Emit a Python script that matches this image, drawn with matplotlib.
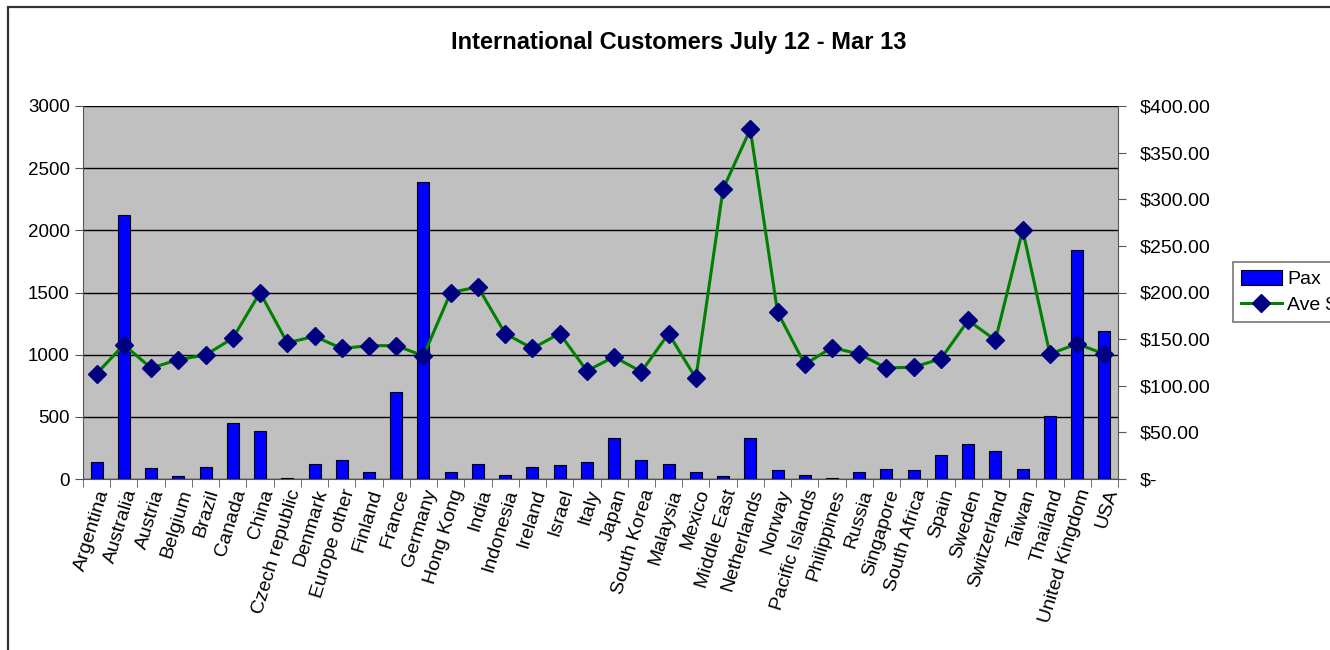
import matplotlib.pyplot as plt
import numpy as np
from matplotlib.patches import Rectangle
from matplotlib.ticker import FuncFormatter

plt.rcParams["font.family"] = ["Liberation Sans", "DejaVu Sans"]

countries = [
    "Argentina", "Australia", "Austria", "Belgium", "Brazil", "Canada", "China",
    "Czech republic", "Denmark", "Europe other", "Finland", "France", "Germany",
    "Hong Kong", "India", "Indonesia", "Ireland", "Israel", "Italy", "Japan",
    "South Korea", "Malaysia", "Mexico", "Middle East", "Netherlands", "Norway",
    "Pacific Islands", "Philippines", "Russia", "Singapore", "South Africa",
    "Spain", "Sweden", "Switzerland", "Taiwan", "Thailand", "United Kingdom", "USA",
]
pax = [
    140, 2120, 85, 25, 95, 450, 390, 10, 120, 155, 60, 700, 2390,
    60, 120, 35, 95, 110, 140, 330, 155, 120, 60, 25, 330, 70,
    35, 10, 60, 80, 70, 190, 285, 225, 80, 510, 1840, 1190,
]
ave_spend = [
    113, 144, 119, 128, 133, 151, 200, 146, 153, 140, 143, 143, 132,
    200, 206, 156, 140, 156, 116, 131, 115, 156, 108, 311, 375, 179,
    123, 141, 134, 119, 120, 129, 170, 149, 267, 134, 145, 134,
]

fig = plt.figure(figsize=(13.3, 6.5), dpi=100)
# chart border (cut off at right and bottom like the source)
fig.patches.append(Rectangle((8 / 1330, -0.1), 1.2, 1.1 - 6.5 / 650, transform=fig.transFigure,
                             fill=False, edgecolor="#333333", linewidth=1.6))

ax = fig.add_axes([83 / 1330, 171 / 650, 1035 / 1330, 373 / 650])
ax.set_facecolor("#c0c0c0")
x = np.arange(len(countries))
bars = ax.bar(x, pax, width=0.44, color="#0000ff", edgecolor="black", linewidth=0.8,
              zorder=3, label="Pax")
ax.set_xlim(-0.5, len(countries) - 0.5)
ax.set_ylim(0, 3000)
ax.set_yticks(range(0, 3001, 500))
ax.yaxis.grid(True, color="black", linewidth=1.0, zorder=1)
ax.set_axisbelow(True)
ax.set_xticks(x)
ax.set_xticklabels(countries, rotation=73, ha="right", rotation_mode="anchor", fontsize=14)
ax.set_xticks(np.arange(-0.5, len(countries), 1), minor=True)
ax.tick_params(axis="x", which="major", length=0, pad=6)
ax.tick_params(axis="x", which="minor", length=6, direction="out", color="#555555")
ax.tick_params(axis="y", labelsize=13.5, length=6, color="#555555")
for s in ["top", "right"]:
    ax.spines[s].set_visible(False)
ax.spines["left"].set_color("#555555")
ax.spines["bottom"].set_color("#555555")

ax2 = ax.twinx()
line, = ax2.plot(x, ave_spend, color="#008000", linewidth=2.2, marker="D", markersize=9,
                 markerfacecolor="#000080", markeredgecolor="#000080", zorder=4, label="Ave $")
ax2.set_ylim(0, 400)
ax2.set_yticks(range(0, 401, 50))
ax2.yaxis.set_major_formatter(FuncFormatter(lambda v, p: "$-" if v == 0 else f"${v:,.2f}"))
ax2.tick_params(axis="y", labelsize=14, length=6, pad=10, color="#555555")
for s in ["top", "left", "bottom"]:
    ax2.spines[s].set_visible(False)
ax2.spines["right"].set_color("#555555")

fig.text(0.5 + 0.01, (650 - 43) / 650, "International Customers July 12 - Mar 13",
         ha="center", va="center", fontsize=17, fontweight="bold")

leg = fig.legend([bars, line], ["Pax", "Ave $"], loc="upper left",
                 bbox_to_anchor=(1233 / 1330, (650 - 262) / 650), borderaxespad=0,
                 fontsize=14, frameon=True, fancybox=False, edgecolor="#555555",
                 handlelength=2.1, handleheight=0.8, borderpad=0.4, labelspacing=0.4,
                 handletextpad=0.3)
leg.get_frame().set_linewidth(1.2)

fig.savefig("out.png", dpi=100)
